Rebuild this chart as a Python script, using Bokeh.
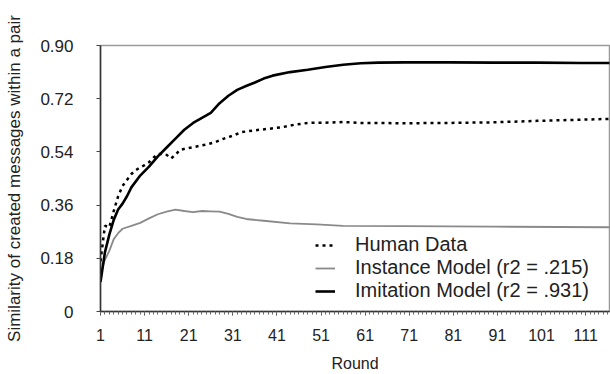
from bokeh.plotting import figure
from bokeh.models import FixedTicker, Legend, LegendItem, Range1d
from bokeh.embed import file_html
from bokeh.resources import INLINE

# ---- data ----
imit_rounds = [1, 2, 3, 4, 5, 6, 7, 8, 10, 12, 14, 16, 18, 20, 22, 24, 26, 28, 30, 32, 34, 36, 38, 40,
               44, 48, 52, 56, 60, 64, 70, 80, 90, 100, 110, 117]
imit_vals = [0.10, 0.20, 0.26, 0.31, 0.345, 0.365, 0.39, 0.42, 0.46, 0.49, 0.525, 0.555, 0.585, 0.615,
             0.638, 0.655, 0.672, 0.705, 0.73, 0.75, 0.763, 0.775, 0.788, 0.798,
             0.81, 0.818, 0.827, 0.835, 0.84, 0.842, 0.843, 0.843, 0.842, 0.842, 0.841, 0.841]

human_rounds = [1, 2, 3, 4, 5, 6, 7, 8, 9, 10, 11, 12, 13, 14, 15, 16, 17, 18, 19, 21, 23, 25, 27, 29,
                31, 33, 36, 39, 42, 45, 48, 52, 56, 60, 70, 80, 90, 100, 110, 117]
human_vals = [0.17, 0.29, 0.285, 0.34, 0.39, 0.425, 0.445, 0.465, 0.478, 0.488, 0.495, 0.505, 0.52,
              0.533, 0.533, 0.53, 0.518, 0.53, 0.547, 0.553, 0.559, 0.565, 0.573, 0.585,
              0.595, 0.607, 0.613, 0.618, 0.623, 0.632, 0.638, 0.639, 0.641, 0.638, 0.637, 0.638,
              0.64, 0.645, 0.649, 0.652]

inst_rounds = [1, 2, 3, 4, 5, 6, 8, 10, 12, 14, 16, 18, 20, 22, 24, 26, 28, 30, 32, 34, 38, 44, 50,
               56, 70, 90, 117]
inst_vals = [0.13, 0.175, 0.205, 0.245, 0.265, 0.28, 0.29, 0.30, 0.315, 0.329, 0.338, 0.345, 0.34,
             0.336, 0.34, 0.339, 0.338, 0.33, 0.32, 0.313, 0.307, 0.298, 0.295, 0.29, 0.289, 0.287,
             0.285]

x_ticks = [1, 11, 21, 31, 41, 51, 61, 71, 81, 91, 101, 111]
x_minor = list(range(1, 118))
y_ticks = [0, 0.18, 0.36, 0.54, 0.72, 0.90]
y_tick_labels = ["0", "0.18", "0.36", "0.54", "0.72", "0.90"]

FONT = "Liberation Sans"

p = figure(width=610, height=374, output_backend="svg", toolbar_location=None,
           x_range=Range1d(1, 116.4), y_range=Range1d(0, 0.9),
           min_border_left=100, min_border_right=1, min_border_top=45, min_border_bottom=61)

p.grid.visible = False
p.outline_line_color = "#9a9a9a"
p.outline_line_width = 1.5
p.background_fill_color = "white"

r_human = p.line(human_rounds, human_vals, line_color="black", line_width=2.5, line_dash="3 4")
r_inst = p.line(inst_rounds, inst_vals, line_color="#8a8a8a", line_width=1.8)
r_imit = p.line(imit_rounds, imit_vals, line_color="black", line_width=2.6)

# x axis
xa = p.xaxis[0]
xa.ticker = FixedTicker(ticks=x_ticks, minor_ticks=x_minor)
xa.axis_label = "Round"
xa.axis_label_text_font = FONT
xa.axis_label_text_font_style = "normal"
xa.axis_label_text_font_size = "16px"
xa.axis_label_text_color = "#222222"
xa.axis_label_standoff = 11
xa.major_label_text_font = FONT
xa.major_label_text_font_size = "16px"
xa.major_label_text_color = "#222222"
xa.major_label_standoff = 13
xa.axis_line_color = "#333333"
xa.axis_line_width = 1.5
xa.major_tick_out = 4
xa.major_tick_in = 0
xa.minor_tick_out = 3
xa.minor_tick_in = 0
xa.major_tick_line_color = "#444444"
xa.minor_tick_line_color = "#666666"

# y axis
ya = p.yaxis[0]
ya.ticker = FixedTicker(ticks=y_ticks, minor_ticks=[])
ya.major_label_overrides = {t: l for t, l in zip(y_ticks, y_tick_labels)}
ya.axis_label = "Similarity of created messages within a pair"
ya.axis_label_text_font = FONT
ya.axis_label_text_font_style = "normal"
ya.axis_label_text_font_size = "17px"
ya.axis_label_text_color = "#222222"
ya.axis_label_standoff = 13
ya.major_label_text_font = FONT
ya.major_label_text_font_size = "17px"
ya.major_label_text_color = "#222222"
ya.major_label_standoff = 23
ya.axis_line_color = "#333333"
ya.axis_line_width = 1.5
ya.major_tick_out = 4
ya.major_tick_in = 0
ya.major_tick_line_color = "#444444"

legend = Legend(items=[
    LegendItem(label="Human Data", renderers=[r_human]),
    LegendItem(label="Instance Model (r2 = .215)", renderers=[r_inst]),
    LegendItem(label="Imitation Model (r2 = .931)", renderers=[r_imit]),
], location=(215, 9))
legend.padding = 0
legend.margin = 0
legend.spacing = -1
legend.glyph_width = 20
legend.glyph_height = 22
legend.label_height = 22
legend.label_standoff = 20
legend.label_text_font = FONT
legend.label_text_font_size = "20px"
legend.label_text_color = "#222222"
legend.background_fill_alpha = 0
legend.border_line_alpha = 0
p.add_layout(legend, "center")

open("out.html", "w").write(file_html(p, INLINE))
